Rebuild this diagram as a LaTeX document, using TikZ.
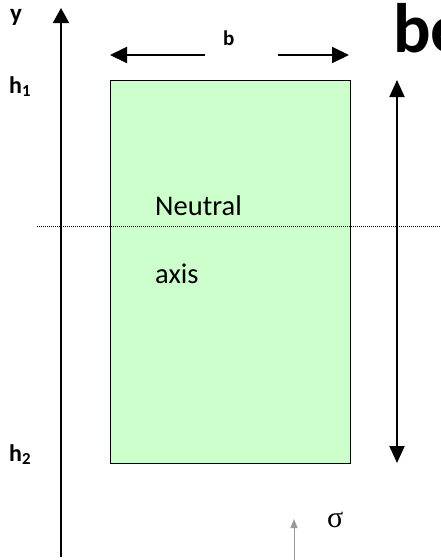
\documentclass[tikz,border=0pt]{standalone}
\usepackage{fontspec}
\setmainfont{Carlito}
\newfontfamily\serifsym{Liberation Serif}
\usetikzlibrary{arrows.meta}
\definecolor{paleg}{HTML}{CCFFCC}
\tikzset{
  thick axis/.style={line width=2pt},
  bigtip/.style={-{Triangle[length=15pt,width=16pt]}},
  lbl/.style={font=\fontsize{24}{26}\selectfont\bfseries, anchor=base west, inner sep=0pt},
  body/.style={font=\fontsize{28.5}{30}\selectfont, anchor=base west, inner sep=0pt}
}
\begin{document}
\begin{tikzpicture}[x=1pt,y=-1pt]
\useasboundingbox (0,0) rectangle (440,560);
\clip (0,0) rectangle (440,560);
% section
\node[draw=black, line width=1.3pt, fill=paleg, minimum width=240pt, minimum height=383pt, inner sep=0pt, anchor=north west] (sec) at (110,80) {};
% neutral axis dotted
\coordinate (na0) at (37,226.5);
\coordinate (na1) at (440,226.5);
\draw[line width=1pt, dash pattern=on 1pt off 1pt] (na0) -- (na1);
% y axis
\coordinate (ya0) at (61,557);
\coordinate (ya1) at (61,8);
\draw[thick axis, bigtip] (ya0) -- (ya1);
% b arrows
\coordinate (bl0) at (205,55);
\coordinate (bl1) at (110,55);
\coordinate (br0) at (278,55);
\coordinate (br1) at (349,55);
\draw[thick axis, -{Triangle[length=17pt,width=16pt]}] (bl0) -- (bl1);
\draw[thick axis, -{Triangle[length=17pt,width=16pt]}] (br0) -- (br1);
% height double arrow
\coordinate (h0) at (397,80);
\coordinate (h1) at (397,463);
\draw[thick axis, {Triangle[length=17pt,width=15pt]}-{Triangle[length=17pt,width=15pt]}] (h0) -- (h1);
% small stress arrow
\coordinate (s0) at (294,560);
\coordinate (s1) at (294,519);
\draw[line width=1pt, draw=gray!80, -{Triangle[length=9pt,width=7pt]}] (s0) -- (s1);
% labels
\node[lbl, font=\fontsize{25}{27}\selectfont\bfseries] (ly) at (10,21) {y};
\node[lbl] (lh1) at (9,93) {h\textsubscript{1}};
\node[lbl] (lh2) at (9,461) {h\textsubscript{2}};
\node[lbl, font=\fontsize{21}{24}\selectfont\bfseries] (lb) at (223,45) {b};
\node[body] (neu) at (155,215) {Neutral};
\node[body] (axs) at (155,283) {axis};
\node[anchor=base west, inner sep=0pt, font=\fontsize{70}{74}\selectfont\bfseries] (be) at (393,52) {be};
\node[anchor=base west, inner sep=0pt, font=\serifsym\fontsize{30}{32}\selectfont] (sig) at (327,527) {σ};
\end{tikzpicture}
\end{document}
